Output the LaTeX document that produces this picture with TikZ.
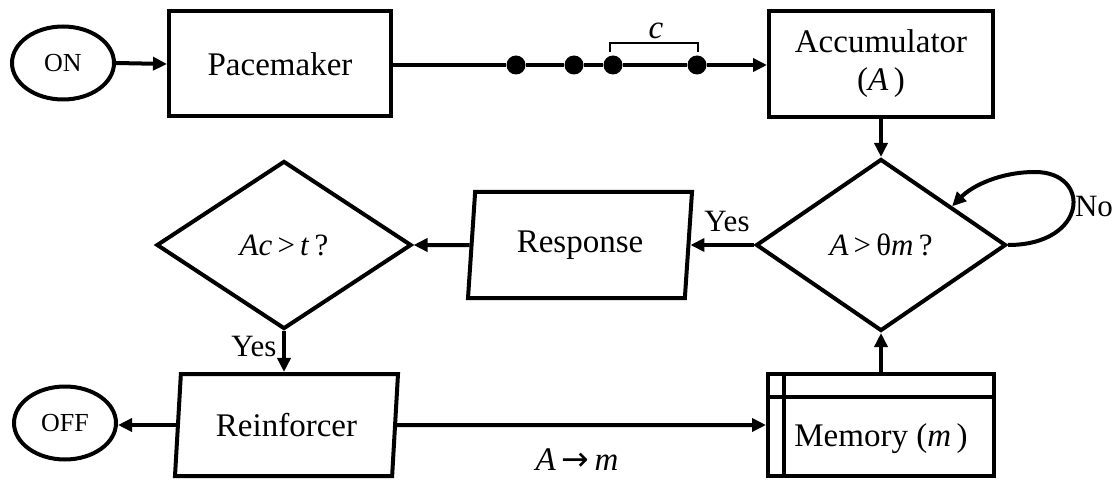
\documentclass[tikz,border=0pt]{standalone}
\usepackage{fontspec}
\setmainfont{Liberation Serif}
\newfontfamily\symfont{DejaVu Sans}
\usetikzlibrary{shapes.geometric,arrows.meta,calc}
\begin{document}
\begin{tikzpicture}[x=1pt,y=-1pt,
  every node/.style={font=\fontsize{33}{38}\selectfont},
  ln/.style={line width=4pt},
  arr/.style={ln,-{Triangle[length=14pt,width=13pt]}},
  boxnode/.style={draw,ln,rectangle,inner sep=0pt},
  termnode/.style={draw,ln,ellipse,minimum width=102pt,minimum height=73pt,inner sep=0pt,font=\fontsize{26}{30}\selectfont},
  decnode/.style={draw,ln,diamond,inner sep=0pt,font=\fontsize{31}{36}\selectfont},
  ionode/.style={draw,ln,trapezium,trapezium left angle=76,trapezium right angle=104,trapezium stretches body,inner sep=0pt},
  dotnode/.style={circle,fill,inner sep=0pt,minimum size=19pt},
  lbl/.style={inner sep=0pt,font=\fontsize{31}{36}\selectfont}
]
\useasboundingbox (0,0) rectangle (1116,481);
% nodes
\node[termnode] (on) at (63,63) {ON};
\node[boxnode,minimum width=222pt,minimum height=105pt] (pace) at (280,64) {Pacemaker};
\node[boxnode,minimum width=224pt,minimum height=106pt,align=center] (acc) at (881,64) {Accumulator\\(\textit{A}\,)};
\node[decnode,minimum width=250pt,minimum height=172pt] (d1) at (881,245) {\textit{A}\,>\,θ\textit{m}\,?};
\node[ionode,minimum width=224pt,minimum height=106pt] (resp) at (580,245) {Response};
\node[decnode,minimum width=255pt,minimum height=168pt] (d2) at (284,245) {\textit{Ac}\,>\,\textit{t}\,?};
\node[ionode,minimum width=223pt,minimum height=102pt] (reinf) at (286.5,425) {Reinforcer};
\node[termnode] (off) at (65,423) {OFF};
\node[boxnode,minimum width=226pt,minimum height=102pt,text height=42pt,text depth=0pt] (mem) at (881,425) {Memory (\textit{m}\,)};
% memory inner lines
\draw[ln] ($(mem.north west)+(18,0)$) -- ($(mem.south west)+(18,0)$);
\draw[ln] ($(mem.north west)+(0,25)$) -- ($(mem.north east)+(0,25)$);
% dots on the pacemaker line
\node[dotnode] (p1) at (516,65) {};
\node[dotnode] (p2) at (574,65) {};
\node[dotnode] (p3) at (613,65) {};
\node[dotnode] (p4) at (697,65) {};
% connectors
\draw[arr] (on.east) -- (pace.west);
\draw[ln] (pace.east |- p1) -- (p1) -- (p2) -- (p3) -- (p4);
\draw[arr] (p4) -- (acc.west |- p4);
\draw[line width=2pt] ($(p3)+(-3,-13)$) -- ($(p3)+(-3,-22)$) -- ($(p4)+(1,-22)$) -- ($(p4)+(1,-13)$);
\node[lbl,font=\fontsize{33}{38}\selectfont\itshape] (clbl) at (656,31) {c};
\draw[arr] (acc.south) -- (d1.north);
\coordinate (loopend) at ($(d1.north)!0.56!(d1.east)$);
\draw[arr] (d1.east) .. controls (1088,245) and (1092,172) .. (1035,172) .. controls (1000,172) and (972,186) .. (loopend);
\node[lbl] (nolbl) at (1094,207) {No};
\draw[arr] (d1.west) -- (d1.west -| resp.east);
\node[lbl] (yes1) at (727,222) {Yes};
\draw[arr] (resp.west) -- (d2.east);
\draw[arr] (d2.south) -- (d2.south |- reinf.north);
\node[lbl] (yes2) at (254,347) {Yes};
\draw[arr] (reinf.west) -- (reinf.west -| off.east);
\draw[arr] (reinf.east) -- (mem.west);
\node[lbl,font=\fontsize{33}{38}\selectfont] (amlbl) at (577,460) {\textit{A}\,{\symfont →}\,\textit{m}};
\draw[arr] (mem.north) -- (d1.south);
\end{tikzpicture}
\end{document}
